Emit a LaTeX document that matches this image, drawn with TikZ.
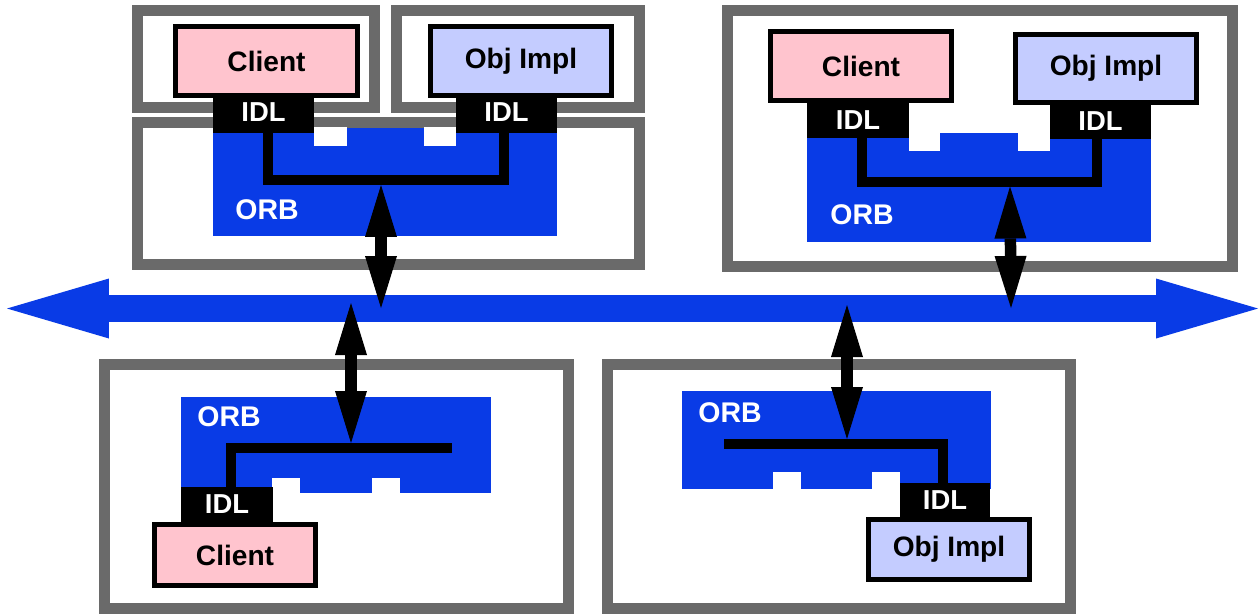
\documentclass[tikz,border=0pt]{standalone}
\usepackage{fontspec}
\setmainfont{Liberation Sans}
\usetikzlibrary{arrows.meta}
\definecolor{orbblue}{RGB}{9,59,230}
\definecolor{framegray}{RGB}{106,106,106}
\definecolor{clientpink}{RGB}{255,196,206}
\definecolor{implblue}{RGB}{196,204,255}
\def\pu{0.02cm}
\tikzset{
  frame/.style={draw=framegray, line width=0.22cm, inner sep=0pt, outer sep=0pt},
  orb/.style={fill=orbblue, inner sep=0pt, outer sep=0pt},
  notch/.style={fill=white},
  swbox/.style={draw=black, line width=0.1cm, inner sep=0pt, outer sep=0pt,
    font=\fontsize{16pt}{18pt}\selectfont\bfseries},
  clientbox/.style={swbox, fill=clientpink},
  implbox/.style={swbox, fill=implblue},
  idl/.style={fill=black, text=white, inner sep=0pt, outer sep=0pt,
    font=\fontsize{15.6pt}{18pt}\selectfont\bfseries},
  orblabel/.style={text=white, inner sep=0pt, font=\fontsize{16.2pt}{18pt}\selectfont\bfseries},
  wire/.style={draw=black, line width=0.2cm, line join=miter, line cap=butt},
  dbl/.style={draw=black, line width=0.23cm,
    {Triangle[length=1.04cm,width=0.64cm,line width=0pt]}-{Triangle[length=1.04cm,width=0.64cm,line width=0pt]}},
  bus/.style={draw=orbblue, line width=0.54cm,
    {Triangle[length=2.04cm,width=1.2cm,line width=0pt]}-{Triangle[length=2.04cm,width=1.2cm,line width=0pt]}}
}
\begin{document}
\begin{tikzpicture}[x=0.02cm, y=-0.02cm]
\useasboundingbox (0,0) rectangle (1260,613);
\fill[white] (0,0) rectangle (1260,613);

% frames
\node[frame, minimum width=237*\pu, minimum height=97*\pu] (F1) at (256,59) {};
\node[frame, minimum width=242.5*\pu, minimum height=97*\pu] (F2) at (517.75,59) {};
\node[frame, minimum width=502*\pu, minimum height=142*\pu] (F3) at (388.5,193.5) {};
\node[frame, minimum width=505*\pu, minimum height=256*\pu] (F4) at (980,138.5) {};
\node[frame, minimum width=463.5*\pu, minimum height=243.5*\pu] (F5) at (336.25,486.25) {};
\node[frame, minimum width=462.5*\pu, minimum height=243.5*\pu] (F6) at (838.75,486.25) {};

% ORB blocks
\node[orb, minimum width=344*\pu, minimum height=108*\pu] (ORB1) at (385,182) {};
\node[orb, minimum width=344*\pu, minimum height=109*\pu] (ORB2) at (979,187.5) {};
\node[orb, minimum width=310*\pu, minimum height=96*\pu] (ORB3) at (336,445) {};
\node[orb, minimum width=309*\pu, minimum height=98*\pu] (ORB4) at (836.5,440) {};

% notches
\fill[notch] (314,127) rectangle (347,146);
\fill[notch] (424,127) rectangle (456,146);
\fill[notch] (909,132) rectangle (940,151);
\fill[notch] (1018,132) rectangle (1050,151);
\fill[notch] (272,478) rectangle (300,494);
\fill[notch] (372,478) rectangle (400,494);
\fill[notch] (773,472) rectangle (801,490);
\fill[notch] (872,472) rectangle (900,490);

% ORB labels
\node[orblabel] (L1) at (267,210) {ORB};
\node[orblabel] (L2) at (862,215) {ORB};
\node[orblabel] (L3) at (229,417) {ORB};
\node[orblabel] (L4) at (730,413) {ORB};

% IDL boxes
\node[idl, minimum width=101*\pu, minimum height=41*\pu] (I1) at (263.5,112.5) {IDL};
\node[idl, minimum width=101*\pu, minimum height=41*\pu] (I2) at (506.5,112.5) {IDL};
\node[idl, minimum width=102*\pu, minimum height=35*\pu] (I3) at (858,120.5) {IDL};
\node[idl, minimum width=101*\pu, minimum height=34*\pu] (I4) at (1100.5,121.5) {IDL};
\node[idl, minimum width=92*\pu, minimum height=35*\pu] (I5) at (227,504.5) {IDL};
\node[idl, minimum width=90*\pu, minimum height=35*\pu] (I6) at (945,500.5) {IDL};

% junction coordinates
\coordinate (J1) at (381,180);
\coordinate (J2) at (1010,181.5);
\coordinate (J3) at (351,448);
\coordinate (J4) at (847,444);
\coordinate (E3) at (452,448);
\coordinate (E4) at (724,444);

% wires
\draw[wire] ([xshift=4.5*\pu]I1.south) |- (J1) -| ([xshift=-2.5*\pu]I2.south);
\draw[wire] ([xshift=4*\pu]I3.south) |- (J2) -| ([xshift=-3.5*\pu]I4.south);
\draw[wire] ([xshift=4*\pu]I5.north) |- (J3) -- (E3);
\draw[wire] (E4) -- (J4) -| ([xshift=-2*\pu]I6.north);

% client / implementation boxes
\node[clientbox, minimum width=182*\pu, minimum height=69*\pu] (C1) at (266.5,61) {Client};
\node[implbox, minimum width=181*\pu, minimum height=69*\pu] (O1) at (521,61) {Obj Impl};
\node[clientbox, minimum width=181*\pu, minimum height=69*\pu] (C2) at (861,66) {Client};
\node[implbox, minimum width=181*\pu, minimum height=68*\pu] (O2) at (1106,68.5) {Obj Impl};
\node[clientbox, minimum width=161*\pu, minimum height=61*\pu] (C3) at (235,555) {Client};
\node[implbox, minimum width=161*\pu, minimum height=60*\pu] (O3) at (949,549.5) {Obj Impl};

% bus
\coordinate (BL) at (7,308.5);
\coordinate (BR) at (1258,308.5);
\draw[bus] (BL) -- (BR);

% bus attachment points
\coordinate (T1) at (381,185);
\coordinate (B1) at (381,308);
\coordinate (T2) at (1010,186.5);
\coordinate (B2) at (1011,308);
\coordinate (T3) at (351,303);
\coordinate (B3) at (351,443);
\coordinate (T4) at (847,305);
\coordinate (B4) at (847,439);

% double arrows
\draw[dbl] (T1) -- (B1);
\draw[dbl] (T2) -- (B2);
\draw[dbl] (T3) -- (B3);
\draw[dbl] (T4) -- (B4);
\end{tikzpicture}
\end{document}
